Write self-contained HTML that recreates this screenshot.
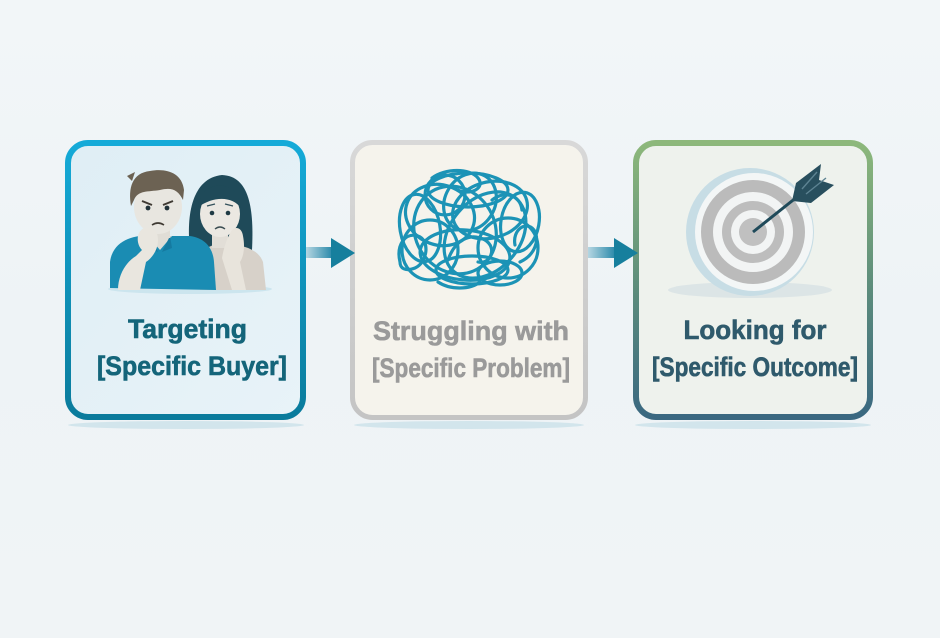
<!DOCTYPE html>
<html><head><meta charset="utf-8"><style>
html,body{margin:0;padding:0;width:940px;height:638px;overflow:hidden;background:#eff4f6}
svg{display:block}
text{font-family:"Liberation Sans",sans-serif;font-weight:bold;font-size:27px;text-anchor:middle;stroke-width:0.6px}
</style></head><body>
<svg width="940" height="638" viewBox="0 0 940 638" xmlns="http://www.w3.org/2000/svg">
<defs>
<linearGradient id="bg" x1="0" y1="0" x2="0" y2="1"><stop offset="0" stop-color="#f2f6f8"/><stop offset="0.5" stop-color="#eef3f6"/><stop offset="1" stop-color="#f0f4f6"/></linearGradient>
<linearGradient id="b1s" x1="0" y1="0" x2="0" y2="1"><stop offset="0" stop-color="#15aad8"/><stop offset="1" stop-color="#0a7b9c"/></linearGradient>
<linearGradient id="b1f" x1="0" y1="0" x2="1" y2="1"><stop offset="0" stop-color="#dfeef5"/><stop offset="1" stop-color="#e8f3f8"/></linearGradient>
<linearGradient id="b2s" x1="0" y1="0" x2="0" y2="1"><stop offset="0" stop-color="#d8d8d8"/><stop offset="1" stop-color="#c4c4c4"/></linearGradient>
<linearGradient id="b3s" x1="0" y1="0" x2="0" y2="1"><stop offset="0" stop-color="#8db87b"/><stop offset="0.5" stop-color="#5f8f7c"/><stop offset="1" stop-color="#3a6880"/></linearGradient>
<linearGradient id="sh" x1="0" y1="0" x2="1" y2="0"><stop offset="0" stop-color="#b5d6e2"/><stop offset="1" stop-color="#2b8aaa"/></linearGradient>
</defs>
<rect width="940" height="638" fill="url(#bg)"/>

<!-- shadows -->
<ellipse cx="186" cy="425" rx="118" ry="4" fill="#d2e5ec"/>
<ellipse cx="469" cy="425" rx="115" ry="4" fill="#d2e5ec"/>
<ellipse cx="753" cy="425" rx="118" ry="4" fill="#d2e5ec"/>

<!-- boxes -->
<rect x="68" y="143" width="235" height="274" rx="20" fill="url(#b1f)" stroke="url(#b1s)" stroke-width="6"/>
<rect x="352.5" y="142.5" width="233" height="275" rx="20" fill="#f5f3ec" stroke="url(#b2s)" stroke-width="5"/>
<rect x="636" y="143" width="234" height="274" rx="20" fill="#eef2ed" stroke="url(#b3s)" stroke-width="6"/>

<!-- connector arrows -->
<rect x="306" y="247" width="26" height="11" fill="url(#sh)"/>
<polygon points="331,238 355,253 331,268" fill="#167f9d"/>
<rect x="588" y="247" width="27" height="11" fill="url(#sh)"/>
<polygon points="614,238 638,253 614,268" fill="#167f9d"/>

<!-- people illustration -->
<ellipse cx="190" cy="289" rx="82" ry="5" fill="#cce5ee"/>
<!-- woman -->
<path d="M190,250 C186,215 192,178 222,175 C250,176 254,210 252,250 Z" fill="#1f4a59"/>
<path d="M200,290 L200,258 C203,248 212,244 222,244 C240,244 258,248 263,262 L266,290 Z" fill="#d7d1c9"/>
<rect x="212" y="228" width="16" height="20" fill="#e2ded7"/>
<ellipse cx="220" cy="214" rx="20" ry="23" fill="#ebe8e2"/>
<path d="M198,207 C200,190 212,184 224,186 C234,188 240,196 241,208 C232,196 214,196 198,207 Z" fill="#1f4a59"/>
<circle cx="212" cy="213" r="2.3" fill="#1f3a44"/>
<circle cx="228" cy="213" r="2.3" fill="#1f3a44"/>
<path d="M207,206 L215,204 M225,204 L233,206" stroke="#35525c" stroke-width="1.4" fill="none"/>
<path d="M215,229 Q220,225 225,229" stroke="#3b4d52" stroke-width="1.4" fill="none"/>
<path d="M222,258 C224,246 228,236 232,230 C236,226 242,228 243,236 C245,246 244,256 240,262 L246,290 L232,290 Z" fill="#e8e4dc"/>
<!-- man -->
<path d="M110,288 L110,262 C112,246 124,238 140,236 L190,236 C205,238 213,248 214,262 L216,290 Z" fill="#1a8cb3"/>
<path d="M148,236 L160,250 L172,236 Z" fill="#e0ddd6"/>
<path d="M150,236 L158,252 L148,248 Z M170,236 L162,252 L172,248 Z" fill="#157aa0"/>
<rect x="148" y="222" width="22" height="16" fill="#e0ddd6"/>
<ellipse cx="158" cy="207" rx="24" ry="27" fill="#e8e6e0"/>
<path d="M131,206 C128,188 132,173 150,171 C165,168 182,172 184,190 L183,200 C178,190 172,187 160,190 C148,192 138,190 134,200 Z" fill="#6c6253"/>
<path d="M127,176 L135,172 L132,181 Z" fill="#6c6253"/>
<circle cx="148" cy="208" r="2.4" fill="#22333a"/>
<circle cx="167" cy="208" r="2.4" fill="#22333a"/>
<path d="M142,201 L152,205 M173,201 L163,205" stroke="#3f3a33" stroke-width="2" fill="none"/>
<path d="M152,225 Q158,221 164,225" stroke="#3f3a33" stroke-width="1.6" fill="none"/>
<path d="M118,290 C118,275 126,262 136,256 L142,250 C136,244 136,232 144,228 C152,226 158,230 158,240 C158,250 152,258 146,262 L140,290 Z" fill="#e9e6df"/>

<!-- scribble -->
<g fill="none" stroke="#1c93b6" stroke-width="3.2" stroke-linecap="round">
<ellipse cx="440" cy="215" rx="35" ry="30" transform="rotate(20 440 215)"/>
<ellipse cx="490" cy="210" rx="38" ry="28" transform="rotate(-15 490 210)"/>
<ellipse cx="465" cy="255" rx="45" ry="25" transform="rotate(5 465 255)"/>
<ellipse cx="430" cy="250" rx="28" ry="30"/>
<ellipse cx="508" cy="248" rx="30" ry="30"/>
<ellipse cx="470" cy="202" rx="25" ry="30" transform="rotate(30 470 202)"/>
<ellipse cx="455" cy="230" rx="40" ry="45" transform="rotate(-30 455 230)"/>
<ellipse cx="485" cy="235" rx="35" ry="48" transform="rotate(40 485 235)"/>
<ellipse cx="420" cy="228" rx="20" ry="34" transform="rotate(-10 420 228)"/>
<ellipse cx="520" cy="222" rx="19" ry="30" transform="rotate(10 520 222)"/>
<ellipse cx="468" cy="190" rx="40" ry="17"/>
<ellipse cx="472" cy="270" rx="36" ry="14"/>
<ellipse cx="445" cy="195" rx="20" ry="20"/>
<ellipse cx="500" cy="273" rx="22" ry="12"/>
<path d="M400,262 C396,245 405,232 418,236 C430,240 428,262 415,268 C405,272 400,268 400,262 Z"/>
<path d="M520,262 C535,255 540,240 534,230 C526,220 512,230 515,245"/>
<path d="M432,178 C445,168 470,168 478,178 C486,188 470,196 458,190"/>
<path d="M438,282 C450,290 470,290 480,282 M492,200 C505,190 520,195 522,210"/>
<path d="M448,260 C455,240 470,232 485,240 C498,248 490,265 478,262"/>
</g>

<!-- target -->
<ellipse cx="750" cy="290" rx="82" ry="8" fill="#dce5e6"/>
<circle cx="750" cy="232" r="64" fill="#c7dde5"/>
<circle cx="754" cy="232" r="59" fill="#f3f6f6"/>
<circle cx="753" cy="232" r="52" fill="#bbbbbb"/>
<circle cx="753" cy="232" r="40" fill="#f2f4f4"/>
<circle cx="753" cy="232" r="31" fill="#bdbdbd"/>
<circle cx="753" cy="232" r="22" fill="#f2f4f4"/>
<circle cx="753" cy="232" r="14" fill="#c0c0c0"/>
<line x1="753" y1="232" x2="802" y2="193" stroke="#1f4a5a" stroke-width="3"/>
<polygon points="792,201 811,203 834,185 819,180 821,164 796,183" fill="#284f5e"/>
<path d="M806,194 L826,178 M802,189 L817,172" stroke="#5d8392" stroke-width="1.4" fill="none"/>

<!-- labels -->
<text x="187.5" y="338" fill="#14657a" stroke="#14657a" textLength="119" lengthAdjust="spacingAndGlyphs">Targeting</text>
<text x="192" y="375" fill="#14657a" stroke="#14657a" textLength="190" lengthAdjust="spacingAndGlyphs">[Specific Buyer]</text>
<text x="471" y="340" fill="#9a9a9a" stroke="#9a9a9a" textLength="196" lengthAdjust="spacingAndGlyphs">Struggling with</text>
<text x="471" y="377" fill="#9a9a9a" stroke="#9a9a9a" textLength="198" lengthAdjust="spacingAndGlyphs">[Specific Problem]</text>
<text x="755" y="339" fill="#2f5a6c" stroke="#2f5a6c" textLength="143" lengthAdjust="spacingAndGlyphs">Looking for</text>
<text x="755" y="376" fill="#2f5a6c" stroke="#2f5a6c" textLength="206" lengthAdjust="spacingAndGlyphs">[Specific Outcome]</text>
</svg>
</body></html>
